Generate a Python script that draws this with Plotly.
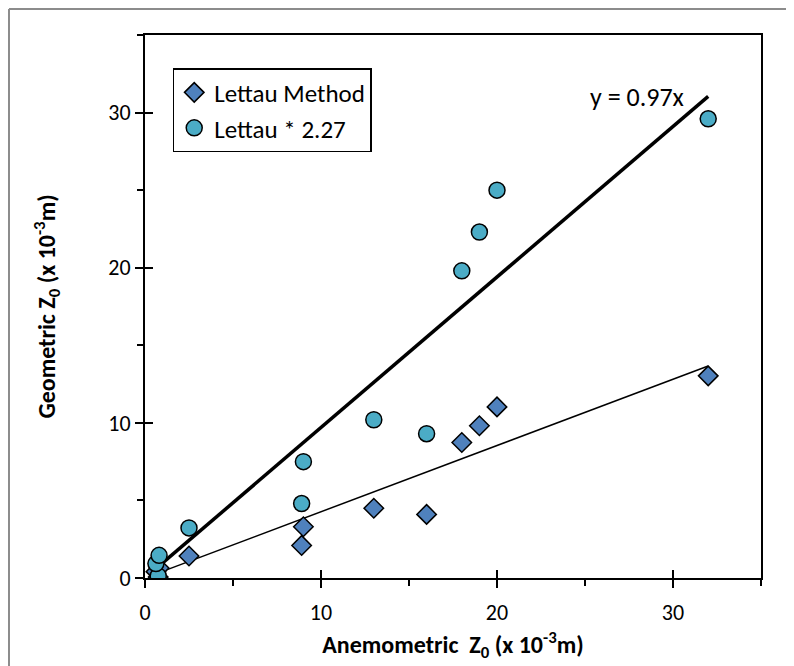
import plotly.graph_objects as go

# ---- data ----
anemometric_x = [0.75, 0.62, 0.80, 2.5, 8.9, 9.0, 13.0, 16.0, 18.0, 19.0, 20.0, 32.0]
lettau_method = [0.06, 0.41, 0.64, 1.42, 2.1, 3.3, 4.5, 4.1, 8.73, 9.81, 11.03, 13.03]
lettau_scaled = [0.13, 0.93, 1.46, 3.23, 4.8, 7.5, 10.2, 9.3, 19.8, 22.3, 25.0, 29.6]
slope_scaled = 0.97
slope_method = 0.427
x_ticks = [0, 10, 20, 30]
y_ticks = [0, 10, 20, 30]

FONT = "Carlito, Calibri, Lato, sans-serif"

fig = go.Figure()

x_fit = [min(anemometric_x), max(anemometric_x)]

# thin trend line for Lettau Method
fig.add_trace(go.Scatter(x=x_fit, y=[slope_method * v for v in x_fit], mode="lines",
                         line=dict(color="black", width=1.5), showlegend=False, hoverinfo="skip"))
# thick trend line for Lettau * 2.27
fig.add_trace(go.Scatter(x=x_fit, y=[slope_scaled * v for v in x_fit], mode="lines",
                         line=dict(color="black", width=3.5), showlegend=False, hoverinfo="skip"))

fig.add_trace(go.Scatter(x=anemometric_x, y=lettau_method, mode="markers", name="Lettau Method",
                         marker=dict(symbol="diamond", size=15, color="#4F81BD",
                                     line=dict(color="black", width=1.5))))
fig.add_trace(go.Scatter(x=anemometric_x, y=lettau_scaled, mode="markers", name="Lettau * 2.27",
                         marker=dict(symbol="circle", size=16, color="#4BACC6",
                                     line=dict(color="black", width=1.5))))

# dummy trace for overlay axes (inside half of crossing ticks)
fig.add_trace(go.Scatter(x=[None], y=[None], xaxis="x2", yaxis="y2", showlegend=False,
                         hoverinfo="skip"))

fig.add_annotation(x=27.95, y=31.0, text="y = 0.97x", showarrow=False,
                   font=dict(family=FONT, size=26, color="black"))

# outer gray border (left and top only visible)
fig.add_shape(type="line", xref="paper", yref="paper", x0=-0.2208, x1=1.2, y0=1.0479, y1=1.0479,
              line=dict(color="#8c8c8c", width=2))
fig.add_shape(type="line", xref="paper", yref="paper", x0=-0.2208, x1=-0.2208, y0=1.0479, y1=-0.2,
              line=dict(color="#8c8c8c", width=2))

axis_common = dict(range=[0, 35], showgrid=False, zeroline=False, showline=True, linecolor="black",
                   linewidth=2, mirror=True, ticks="outside", ticklen=8, tickwidth=1.5,
                   tickcolor="black", minor=dict(dtick=5, ticks="outside", ticklen=6,
                                                 tickwidth=1.5, tickcolor="black"),
                   tickfont=dict(family=FONT, size=22, color="black"))

fig.update_layout(
    width=794, height=666,
    margin=dict(l=137, r=41, t=27, b=96),
    paper_bgcolor="white", plot_bgcolor="white",
    font=dict(family=FONT, color="black"),
    xaxis=dict(**axis_common, tickvals=x_ticks, ticktext=[str(v) for v in x_ticks],
               ticklabelstandoff=6,
               title=dict(text="<b>Anemometric  Z<sub>0</sub> (x 10<sup>-3</sup>m)</b>",
                          font=dict(family=FONT, size=24), standoff=11)),
    yaxis=dict(**axis_common, tickvals=y_ticks, ticktext=[str(v) for v in y_ticks],
               title=dict(text="<b>Geometric Z<sub>0</sub> (x 10<sup>-3</sup>m)</b>",
                          font=dict(family=FONT, size=24), standoff=46)),
    xaxis2=dict(range=[0, 35], overlaying="x", showgrid=False, zeroline=False, showline=False,
                tickvals=x_ticks, ticks="inside", ticklen=8, tickwidth=1.5, tickcolor="black",
                showticklabels=False, side="bottom"),
    yaxis2=dict(range=[0, 35], overlaying="y", showgrid=False, zeroline=False, showline=False,
                tickvals=y_ticks, ticks="inside", ticklen=8, tickwidth=1.5, tickcolor="black",
                showticklabels=False, side="left"),
    legend=dict(x=0.045, y=0.939, xanchor="left", yanchor="top", bordercolor="black",
                borderwidth=1.5, bgcolor="white", font=dict(family=FONT, size=25),
                itemsizing="trace", itemwidth=30),
    showlegend=True,
)

fig.write_html("out.html")
